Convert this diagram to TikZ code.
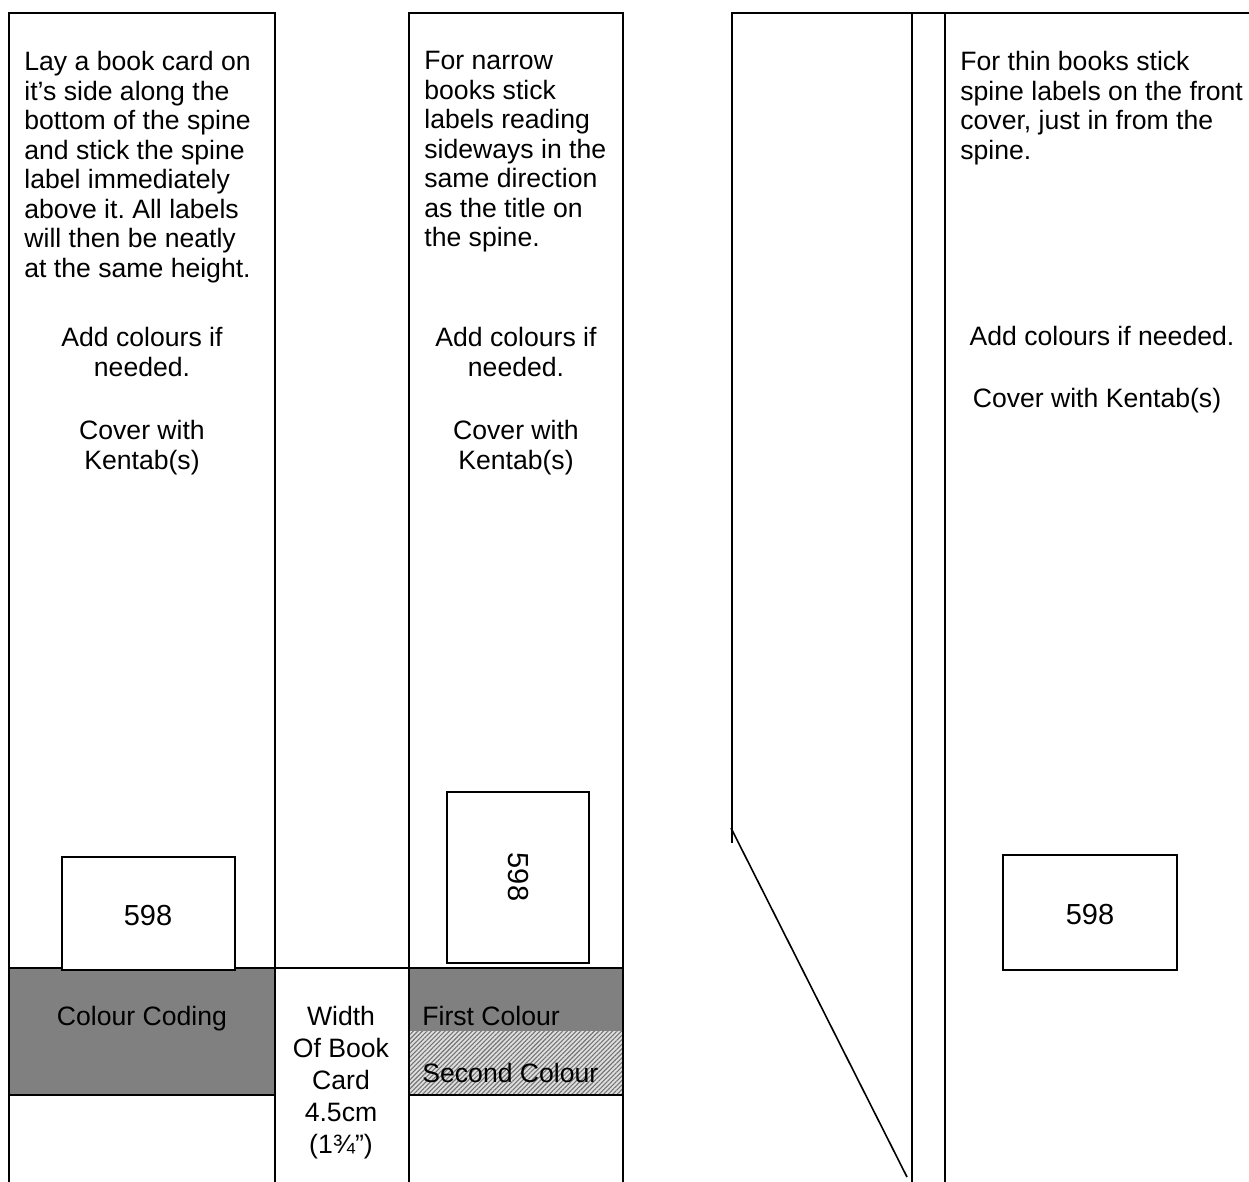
\documentclass[tikz,border=0pt]{standalone}
\usepackage{fontspec}
\setmainfont{Liberation Sans}
\usepackage{tikz}
\usetikzlibrary{positioning, patterns.meta}
\frenchspacing

\begin{document}
\begin{tikzpicture}[
  x=0.5pt, y=-0.5pt,
  every node/.style={font=\fontsize{13.3pt}{14.75pt}\selectfont, inner sep=0pt},
  edge/.style={line width=1pt, draw=black},
  cardbox/.style={line width=0.8pt, draw=black, fill=white},
  cardnum/.style={font=\fontsize{14.5pt}{16pt}\selectfont},
  note/.style={align=left, anchor=north west},
  midnote/.style={align=center, anchor=north},
  colourband/.style={fill=gray},
  hatchband/.style={pattern={Lines[angle=45, distance=1.6pt, line width=0.55pt]}, pattern color=gray!90!black},
]
\useasboundingbox (0,0) rectangle (1249,1182);

% Colour bands
\fill[colourband] (9,968) rectangle (275,1095);
\fill[colourband] (409,968) rectangle (623,1031);
\fill[gray!25] (409,1031) rectangle (623,1095);
\fill[hatchband] (409,1031) rectangle (623,1095);

% Spine outlines
\draw[edge] (9,1182) -- (9,13) -- (275,13) -- (275,1182);
\draw[edge] (409,1182) -- (409,13) -- (623,13) -- (623,1182);
\draw[edge] (9,968) -- (623,968);
\draw[edge] (9,1095) -- (275,1095);
\draw[edge] (409,1095) -- (623,1095);

% Thin book, front cover
\draw[edge] (732,843) -- (732,13) -- (1249,13);
\draw[edge] (912,13) -- (912,1182);
\draw[edge] (945,13) -- (945,1182);
\draw[line width=0.8pt] (731,828) -- (907,1177);

% Spine labels
\draw[cardbox] (62,857) rectangle (235,970);
\draw[cardbox] (447,792) rectangle (589,963);
\draw[cardbox] (1003,855) rectangle (1177,970);
\node[cardnum] (lblA) at (148,916) {598};
\node[cardnum, rotate=-90] (lblB) at (518,877) {598};
\node[cardnum] (lblC) at (1090,915) {598};

% Texts, wide spine
\node[note] (layText) at (24,51) {Lay a book card on\\it’s side along the\\bottom of the spine\\and stick the spine\\label immediately\\above it. All labels\\will then be neatly\\at the same height.};
\node[midnote] (addA) at (142,327) {Add colours if\\needed.};
\node[midnote] (coverA) at (142,420) {Cover with\\Kentab(s)};
\node[anchor=base] (codeA) at (142,1025) {Colour Coding};

% Texts, narrow spine
\node[note] (narrowText) at (424,51) {For narrow\\books stick\\labels reading\\sideways in the\\same direction\\as the title on\\the spine.};
\node[midnote] (addB) at (516,327) {Add colours if\\needed.};
\node[midnote] (coverB) at (516,420) {Cover with\\Kentab(s)};
\node[anchor=base west] (firstB) at (422,1025) {First Colour};
\node[anchor=base west] (secondB) at (422,1082) {Second Colour};

% Card width
\node[midnote, font=\fontsize{13.3pt}{16pt}\selectfont] (widthText) at (341,1006) {Width\\Of Book\\Card\\4.5cm\\(1¾”)};

% Texts, thin book
\node[note] (thinText) at (960,51) {For thin books stick\\spine labels on the front\\cover, just in from the\\spine.};
\node[anchor=base] (addC) at (1102,346) {Add colours if needed.};
\node[anchor=base] (coverC) at (1097,408) {Cover with Kentab(s)};

\end{tikzpicture}
\end{document}
